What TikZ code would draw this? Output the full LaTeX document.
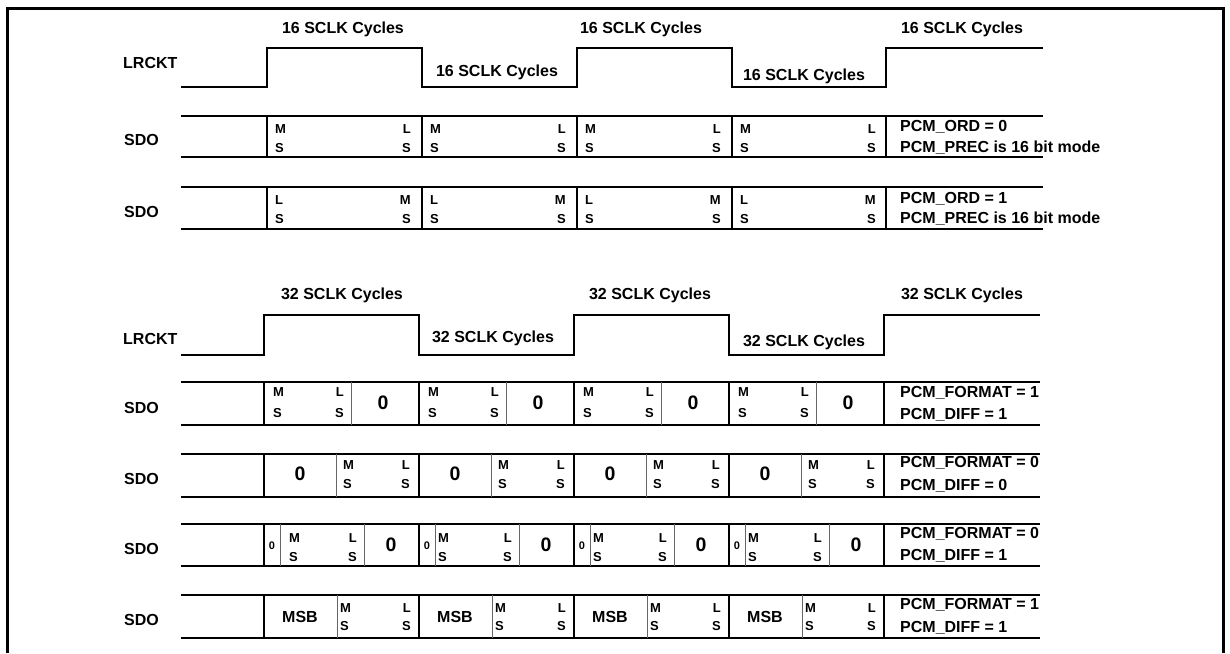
\documentclass[tikz,border=0pt]{standalone}
\usepackage{fontspec}
\setmainfont{Liberation Sans}
\usetikzlibrary{positioning}

\tikzset{
  lbl/.style={font=\fontsize{16}{18}\selectfont\bfseries,inner sep=0pt},
  bit/.style={font=\fontsize{13}{15}\selectfont\bfseries,inner sep=0pt},
  bigzero/.style={font=\fontsize{19.5}{21}\selectfont\bfseries,inner sep=0pt},
  smallzero/.style={font=\fontsize{11}{12}\selectfont\bfseries,inner sep=0pt},
  wave/.style={line width=2pt},
  sub/.style={line width=1pt,black!60},
}

\begin{document}
\begin{tikzpicture}[x=1pt,y=-1pt]
\useasboundingbox (0,0) rectangle (1230,653);
\draw[line width=3pt] (7,653) -- (7,8) -- (1223,8) -- (1223,653);

% 16 bit mode
\node[lbl,anchor=west] (lrckA) at (123,63) {LRCKT};
\draw[wave] (181,87) -| (267,48) -| (422,87) -| (577,48) -| (732,87) -| (886,48) -- (1043,48);
\node[lbl] (cycA1) at (343,29) {16 SCLK Cycles};
\node[lbl] (cycA2) at (497,72) {16 SCLK Cycles};
\node[lbl] (cycA3) at (641,29) {16 SCLK Cycles};
\node[lbl] (cycA4) at (804,76) {16 SCLK Cycles};
\node[lbl] (cycA5) at (962,29) {16 SCLK Cycles};

\foreach \t/\b in {116/157,187/229}{
  \draw[wave] (181,\t) -- (1043,\t) (181,\b) -- (1043,\b);
  \foreach \x in {267,422,577,732,886} \draw[wave] (\x,\t) -- (\x,\b);
}
\node[lbl,anchor=west] (sdoA1) at (124,140) {SDO};
\node[lbl,anchor=west] (sdoA2) at (124,212) {SDO};
\foreach \l in {267,422,577,732}{
  \node[bit,anchor=west] (ordM\l) at (\l+8,129) {M};
  \node[bit,anchor=west] (ordMs\l) at (\l+8,148) {S};
  \node[bit,anchor=east] (ordL\l) at (\l+144,129) {L};
  \node[bit,anchor=east] (ordLs\l) at (\l+144,148) {S};
  \node[bit,anchor=west] (revL\l) at (\l+8,200) {L};
  \node[bit,anchor=west] (revLs\l) at (\l+8,219) {S};
  \node[bit,anchor=east] (revM\l) at (\l+144,200) {M};
  \node[bit,anchor=east] (revMs\l) at (\l+144,219) {S};
}
\node[lbl,anchor=west] (ord0) at (900,127) {PCM\_ORD = 0};
\node[lbl,anchor=west] (prec0) at (900,148) {PCM\_PREC is 16 bit mode};
\node[lbl,anchor=west] (ord1) at (900,199) {PCM\_ORD = 1};
\node[lbl,anchor=west] (prec1) at (900,219) {PCM\_PREC is 16 bit mode};

% 32 bit mode
\node[lbl,anchor=west] (lrckB) at (123,339) {LRCKT};
\draw[wave] (181,355) -| (264,315) -| (419,355) -| (574,315) -| (729,355) -| (884,315) -- (1040,315);
\node[lbl] (cycB1) at (342,295) {32 SCLK Cycles};
\node[lbl] (cycB2) at (493,338) {32 SCLK Cycles};
\node[lbl] (cycB3) at (650,295) {32 SCLK Cycles};
\node[lbl] (cycB4) at (804,342) {32 SCLK Cycles};
\node[lbl] (cycB5) at (962,295) {32 SCLK Cycles};

\foreach \t/\b in {382/425,454/497,524/566,595/638}{
  \draw[wave] (181,\t) -- (1040,\t) (181,\b) -- (1040,\b);
  \foreach \x in {264,419,574,729,884} \draw[wave] (\x,\t) -- (\x,\b);
}
\node[lbl,anchor=west] (sdoB1) at (124,408) {SDO};
\node[lbl,anchor=west] (sdoB2) at (124,479) {SDO};
\node[lbl,anchor=west] (sdoB3) at (124,549) {SDO};
\node[lbl,anchor=west] (sdoB4) at (124,620) {SDO};

\foreach \l in {264,419,574,729}{
  % PCM_FORMAT = 1, PCM_DIFF = 1
  \draw[sub] (\l+87,382) -- (\l+87,425);
  \node[bit,anchor=west] (fmtM\l) at (\l+9,392) {M};
  \node[bit,anchor=west] (fmtMs\l) at (\l+9,413) {S};
  \node[bit,anchor=east] (fmtL\l) at (\l+80,392) {L};
  \node[bit,anchor=east] (fmtLs\l) at (\l+80,413) {S};
  \node[bigzero] (fmtZ\l) at (\l+119,403) {0};
  % PCM_FORMAT = 0, PCM_DIFF = 0
  \draw[sub] (\l+72,454) -- (\l+72,497);
  \node[bigzero] (difZ\l) at (\l+36,474) {0};
  \node[bit,anchor=west] (difM\l) at (\l+79,465) {M};
  \node[bit,anchor=west] (difMs\l) at (\l+79,484) {S};
  \node[bit,anchor=east] (difL\l) at (\l+146,465) {L};
  \node[bit,anchor=east] (difLs\l) at (\l+146,484) {S};
  % PCM_FORMAT = 0, PCM_DIFF = 1
  \draw[sub] (\l+16,524) -- (\l+16,566) (\l+100,524) -- (\l+100,566);
  \node[smallzero] (sgnZ\l) at (\l+8,546) {0};
  \node[bit,anchor=east] (sgnL\l) at (\l+93,538) {L};
  \node[bit,anchor=east] (sgnLs\l) at (\l+93,557) {S};
  \node[bigzero] (sgnB\l) at (\l+127,545) {0};
  % PCM_FORMAT = 1, PCM_DIFF = 1
  \draw[sub] (\l+73,595) -- (\l+73,638);
  \node[lbl] (msb\l) at (\l+36,617) {MSB};
  \node[bit,anchor=west] (extM\l) at (\l+76,608) {M};
  \node[bit,anchor=west] (extMs\l) at (\l+76,626) {S};
  \node[bit,anchor=east] (extL\l) at (\l+147,608) {L};
  \node[bit,anchor=east] (extLs\l) at (\l+147,626) {S};
}
\node[bit,anchor=west] (sgnM264) at (289,538) {M};
\node[bit,anchor=west] (sgnMs264) at (289,557) {S};
\foreach \l in {419,574,729}{
  \node[bit,anchor=west] (sgnM\l) at (\l+19,538) {M};
  \node[bit,anchor=west] (sgnMs\l) at (\l+19,557) {S};
}

\node[lbl,anchor=west] (fmt1) at (900,393) {PCM\_FORMAT = 1};
\node[lbl,anchor=west] (dif1) at (900,415) {PCM\_DIFF = 1};
\node[lbl,anchor=west] (fmt2) at (900,463) {PCM\_FORMAT = 0};
\node[lbl,anchor=west] (dif2) at (900,486) {PCM\_DIFF = 0};
\node[lbl,anchor=west] (fmt3) at (900,534) {PCM\_FORMAT = 0};
\node[lbl,anchor=west] (dif3) at (900,556) {PCM\_DIFF = 1};
\node[lbl,anchor=west] (fmt4) at (900,605) {PCM\_FORMAT = 1};
\node[lbl,anchor=west] (dif4) at (900,628) {PCM\_DIFF = 1};
\end{tikzpicture}
\end{document}
